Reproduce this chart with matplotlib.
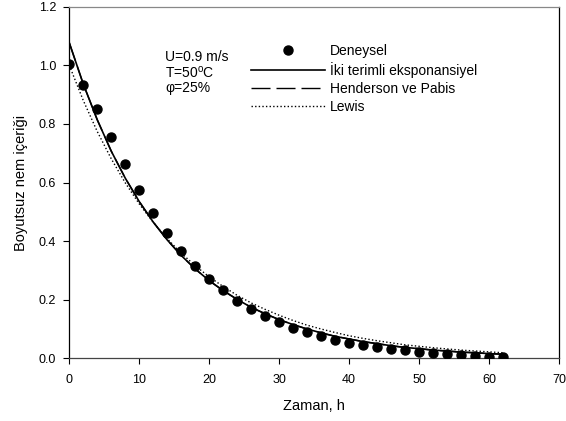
import matplotlib
matplotlib.use("Agg")
import matplotlib.pyplot as plt

plt.rcParams['font.family'] = ['Liberation Sans', 'DejaVu Sans']
plt.rcParams['mathtext.fontset'] = 'custom'
plt.rcParams['mathtext.rm'] = 'Liberation Sans'

# Data
time_h = [0, 2, 4, 6, 8, 10, 12, 14, 16, 18, 20, 22, 24, 26, 28, 30,
          32, 34, 36, 38, 40, 42, 44, 46, 48, 50, 52, 54, 56, 58, 60, 62]
deneysel = [1.005, 0.932, 0.851, 0.756, 0.663, 0.574, 0.497, 0.427, 0.367, 0.315,
            0.271, 0.232, 0.197, 0.170, 0.146, 0.124, 0.105, 0.089, 0.075, 0.064,
            0.053, 0.045, 0.038, 0.032, 0.027, 0.023, 0.019, 0.015, 0.012, 0.009,
            0.006, 0.003]
iki_terimli = [1.077, 0.936, 0.814, 0.707, 0.615, 0.535, 0.465, 0.404, 0.351, 0.305,
               0.265, 0.231, 0.201, 0.174, 0.152, 0.132, 0.115, 0.100, 0.087, 0.075,
               0.066, 0.057, 0.050, 0.043, 0.037, 0.033, 0.028, 0.025, 0.021, 0.019,
               0.016, 0.014]
henderson = [1.077, 0.936, 0.814, 0.707, 0.615, 0.535, 0.465, 0.404, 0.351, 0.305,
             0.265, 0.231, 0.201, 0.174, 0.152, 0.132, 0.115, 0.100, 0.087, 0.075,
             0.066, 0.057, 0.050, 0.043, 0.037, 0.033, 0.028, 0.025, 0.021, 0.019,
             0.016, 0.014]
lewis = [1.000, 0.880, 0.774, 0.681, 0.599, 0.527, 0.464, 0.408, 0.359, 0.316,
         0.278, 0.245, 0.215, 0.189, 0.167, 0.147, 0.129, 0.113, 0.100, 0.088,
         0.077, 0.068, 0.060, 0.053, 0.046, 0.041, 0.036, 0.032, 0.028, 0.025,
         0.022, 0.019]

labels = ['Deneysel', 'İki terimli eksponansiyel', 'Henderson ve Pabis', 'Lewis']
x_ticks = [0, 10, 20, 30, 40, 50, 60, 70]
y_ticks = [0.0, 0.2, 0.4, 0.6, 0.8, 1.0, 1.2]
condition_text = ['U=0.9 m/s', 'T=50$\\mathregular{^o}$C', 'φ=25%']

fig = plt.figure(figsize=(5.66, 4.21), dpi=100)
ax = fig.add_axes([0.1224, 0.1489, 0.8652, 0.8352])

h_dots, = ax.plot(time_h, deneysel, 'o', color='black', markersize=6.5, linestyle='none', zorder=5)
h_hp, = ax.plot(time_h, henderson, color='black', lw=1.0, linestyle=(0, (13.7, 4.3)), zorder=2)
h_two, = ax.plot(time_h, iki_terimli, color='black', lw=1.2, linestyle='-', zorder=3)
h_lew, = ax.plot(time_h, lewis, color='black', lw=1.0, linestyle=(0, (1, 1.6)), zorder=2)

ax.set_xlim(0, 70)
ax.set_ylim(0, 1.2)
ax.set_xticks(x_ticks)
ax.set_xticklabels([str(v) for v in x_ticks])
ax.set_yticks(y_ticks)
ax.set_yticklabels([f'{v:.1f}' for v in y_ticks])
ax.tick_params(direction='out', length=4, width=0.8, labelsize=9, colors='black')
ax.tick_params(axis='x', pad=7.5)
ax.tick_params(axis='y', pad=5.5)

ax.spines['left'].set_color('black')
ax.spines['right'].set_color('black')
ax.spines['top'].set_color('#888888')
ax.spines['bottom'].set_color('#444444')
for s in ax.spines.values():
    s.set_linewidth(0.9)

ax.set_xlabel('Zaman, h', fontsize=10.5, labelpad=9)
ax.set_ylabel('Boyutsuz nem içeriği', fontsize=10.5, labelpad=8)

for i, t in enumerate(condition_text):
    ax.text(0.1954, 0.857 - i * 0.044, t, transform=ax.transAxes, fontsize=10,
            va='center', ha='left')

leg = ax.legend([h_dots, h_two, h_hp, h_lew], labels, loc='upper left',
                bbox_to_anchor=(0.371, 0.893), frameon=False, fontsize=10,
                handlelength=5.3, handletextpad=0.36, labelspacing=0.28,
                borderaxespad=0, borderpad=0)

fig.savefig('out.png', dpi=100)
